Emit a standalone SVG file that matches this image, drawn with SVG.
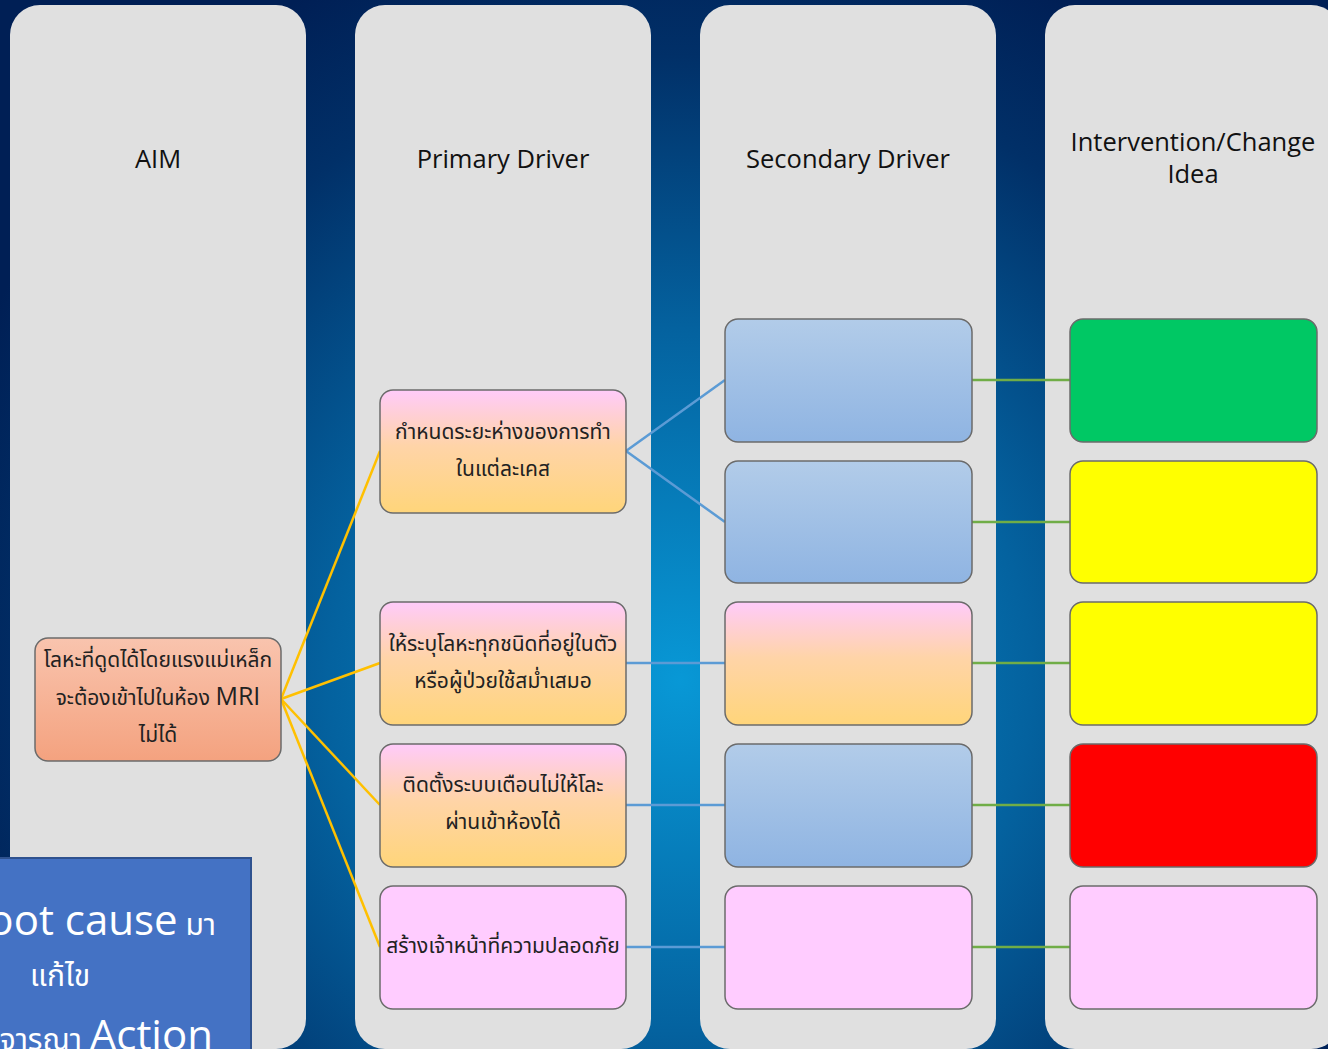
<svg xmlns="http://www.w3.org/2000/svg" width="1328" height="1049" viewBox="0 0 1328 1049">
  <defs>
    <radialGradient id="bg" gradientUnits="userSpaceOnUse" cx="680" cy="680" r="780">
      <stop offset="0" stop-color="#0898d6"/>
      <stop offset="0.45" stop-color="#04629f"/>
      <stop offset="0.8" stop-color="#013068"/>
      <stop offset="1" stop-color="#001f55"/>
    </radialGradient>
    <linearGradient id="salmon" x1="0" y1="0" x2="0" y2="1">
      <stop offset="0" stop-color="#f9c4ae"/>
      <stop offset="1" stop-color="#f4a27f"/>
    </linearGradient>
    <linearGradient id="peach" x1="0" y1="0" x2="0" y2="1">
      <stop offset="0" stop-color="#ffcbfa"/>
      <stop offset="0.45" stop-color="#ffd4a8"/>
      <stop offset="1" stop-color="#ffd57a"/>
    </linearGradient>
    <linearGradient id="blue" x1="0" y1="0" x2="0" y2="1">
      <stop offset="0" stop-color="#b2cce9"/>
      <stop offset="1" stop-color="#8fb4e2"/>
    </linearGradient>
  </defs>
  <style>
    .col { fill: #e0e0e0; }
    .box { stroke: #6b6b6b; stroke-width: 1.5; }
    .title { font-family: "Open Sans", "Noto Sans", sans-serif; font-size: 25.5px; fill: #111; text-anchor: middle; }
    .th { font-family: "Noto Sans", "Noto Sans Thai", "Noto Sans Thai Looped", sans-serif; font-size: 21px; fill: #222; text-anchor: middle; }
    .aim-link { stroke: #ffc000; stroke-width: 2.5; fill: none; }
    .pri-link { stroke: #5b9bd5; stroke-width: 2.5; fill: none; }
    .sec-link { stroke: #70ad47; stroke-width: 2.5; fill: none; }
    .note { font-family: "Open Sans", "Noto Sans", "Noto Sans Thai", sans-serif; fill: #ffffff; }
  </style>

  <rect width="1328" height="1049" fill="url(#bg)"/>

  <!-- column panels -->
  <g id="columns">
    <rect class="col" x="10" y="5" width="296" height="1044" rx="30"/>
    <rect class="col" x="355" y="5" width="296" height="1044" rx="30"/>
    <rect class="col" x="700" y="5" width="296" height="1044" rx="30"/>
    <rect class="col" x="1045" y="5" width="296" height="1044" rx="30"/>
  </g>

  <g id="titles">
    <text class="title" x="158" y="168">AIM</text>
    <text class="title" x="503" y="168">Primary Driver</text>
    <text class="title" x="848" y="168">Secondary Driver</text>
    <text class="title" x="1193" y="151">Intervention/Change</text>
    <text class="title" x="1193" y="183">Idea</text>
  </g>

  <!-- connectors -->
  <g id="connectors">
    <path class="aim-link" d="M281 699 L380 451"/>
    <path class="aim-link" d="M281 699 L380 663"/>
    <path class="aim-link" d="M281 699 L380 805"/>
    <path class="aim-link" d="M281 699 L380 947"/>
    <path class="pri-link" d="M626 451 L725 380"/>
    <path class="pri-link" d="M626 451 L725 522"/>
    <path class="pri-link" d="M626 663 L725 663"/>
    <path class="pri-link" d="M626 805 L725 805"/>
    <path class="pri-link" d="M626 947 L725 947"/>
    <path class="sec-link" d="M972 380 L1070 380"/>
    <path class="sec-link" d="M972 522 L1070 522"/>
    <path class="sec-link" d="M972 663 L1070 663"/>
    <path class="sec-link" d="M972 805 L1070 805"/>
    <path class="sec-link" d="M972 947 L1070 947"/>
  </g>

  <!-- aim -->
  <g id="aim">
    <rect class="box" x="35" y="638" width="246" height="123" rx="13" fill="url(#salmon)"/>
    <text class="th" x="158" y="667">โลหะที่ดูดได้โดยแรงแม่เหล็ก</text>
    <text class="th" x="158" y="705">จะต้องเข้าไปในห้อง <tspan font-family="Open Sans, sans-serif" font-size="25">MRI</tspan></text>
    <text class="th" x="158" y="742">ไม่ได้</text>
  </g>

  <!-- primary drivers -->
  <g id="primary-1">
    <rect class="box" x="380" y="390" width="246" height="123" rx="13" fill="url(#peach)"/>
    <text class="th" x="503" y="439">กำหนดระยะห่างของการทำ</text>
    <text class="th" x="503" y="476">ในแต่ละเคส</text>
  </g>
  <g id="primary-2">
    <rect class="box" x="380" y="602" width="246" height="123" rx="13" fill="url(#peach)"/>
    <text class="th" x="503" y="651">ให้ระบุโลหะทุกชนิดที่อยู่ในตัว</text>
    <text class="th" x="503" y="688">หรือผู้ป่วยใช้สม่ำเสมอ</text>
  </g>
  <g id="primary-3">
    <rect class="box" x="380" y="744" width="246" height="123" rx="13" fill="url(#peach)"/>
    <text class="th" x="503" y="792">ติดตั้งระบบเตือนไม่ให้โละ</text>
    <text class="th" x="503" y="829">ผ่านเข้าห้องได้</text>
  </g>
  <g id="primary-4">
    <rect class="box" x="380" y="886" width="246" height="123" rx="13" fill="#ffccff"/>
    <text class="th" x="503" y="953">สร้างเจ้าหน้าที่ความปลอดภัย</text>
  </g>

  <!-- secondary drivers -->
  <g id="secondary-1"><rect class="box" x="725" y="319" width="247" height="123" rx="13" fill="url(#blue)"/></g>
  <g id="secondary-2"><rect class="box" x="725" y="461" width="247" height="122" rx="13" fill="url(#blue)"/></g>
  <g id="secondary-3"><rect class="box" x="725" y="602" width="247" height="123" rx="13" fill="url(#peach)"/></g>
  <g id="secondary-4"><rect class="box" x="725" y="744" width="247" height="123" rx="13" fill="url(#blue)"/></g>
  <g id="secondary-5"><rect class="box" x="725" y="886" width="247" height="123" rx="13" fill="#ffccff"/></g>

  <!-- change ideas -->
  <g id="idea-1"><rect class="box" x="1070" y="319" width="247" height="123" rx="13" fill="#00c864"/></g>
  <g id="idea-2"><rect class="box" x="1070" y="461" width="247" height="122" rx="13" fill="#ffff00"/></g>
  <g id="idea-3"><rect class="box" x="1070" y="602" width="247" height="123" rx="13" fill="#ffff00"/></g>
  <g id="idea-4"><rect class="box" x="1070" y="744" width="247" height="123" rx="13" fill="#ff0000"/></g>
  <g id="idea-5"><rect class="box" x="1070" y="886" width="247" height="123" rx="13" fill="#ffccff"/></g>

  <!-- note box, bottom left -->
  <g id="note">
    <rect x="-100" y="858" width="351" height="260" fill="#4472c4" stroke="#2f528f" stroke-width="2"/>
    <text class="note" x="216" y="935" text-anchor="end"><tspan font-size="42">Root cause</tspan><tspan font-size="30"> มา</tspan></text>
    <text class="note" x="60" y="986" text-anchor="middle" font-size="30">แก้ไข</text>
    <text class="note" x="213" y="1050" text-anchor="end"><tspan font-size="30">พิจารณา </tspan><tspan font-size="42">Action</tspan></text>
  </g>
</svg>
